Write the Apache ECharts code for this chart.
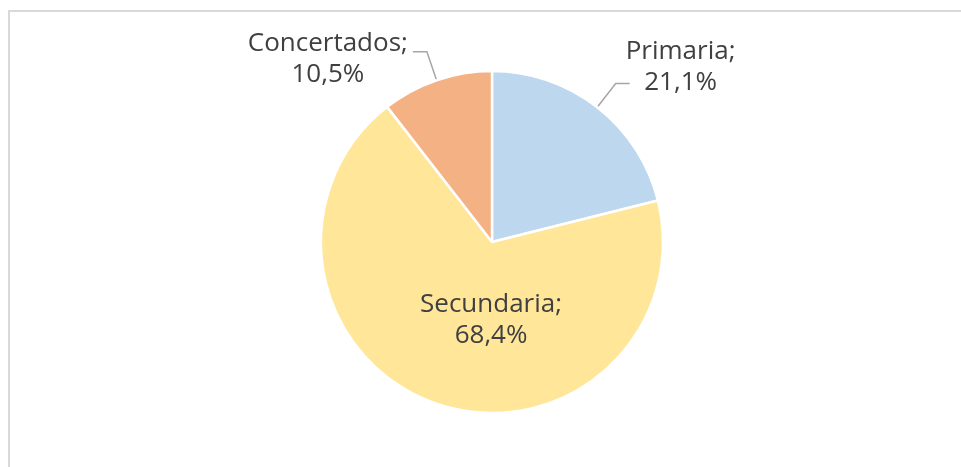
<!DOCTYPE html>
<html>
<head>
<meta charset="utf-8">
<script src="https://cdn.jsdelivr.net/npm/echarts@6/dist/echarts.min.js"></script>
<style>
  html, body { margin: 0; padding: 0; background: #fff; }
  #chart { width: 961px; height: 467px; }
</style>
</head>
<body>
<div id="chart"></div>
<script>
const categories = ['Primaria', 'Secundaria', 'Concertados'];
const shares = [21.1, 68.4, 10.5];
const colors = ['#BDD7EE', '#FFE699', '#F4B183'];

// label nudges (px) so the text sits like the original
const labelShift = [[-9, -16], [28, -6], [0, 7]];

const fmt = v => v.toFixed(1).replace('.', ',');

const option = {
    animation: false,
    graphic: [{
        type: 'rect',
        shape: { x: 9, y: 11, width: 1000, height: 600 },
        style: { fill: 'none', stroke: '#d9d9d9', lineWidth: 2 },
        silent: true
    }],
    series: [{
        type: 'pie',
        center: [492, 242],
        radius: 171,
        startAngle: 90,
        avoidLabelOverlap: false,
        itemStyle: { borderColor: '#fff', borderWidth: 2.5 },
        label: {
            show: true,
            position: 'outside',
            color: '#404040',
            fontFamily: '"Open Sans", sans-serif',
            fontSize: 26,
            lineHeight: 31,
            formatter: p => '{c|' + p.name + ';}\n{c|' + fmt(p.value) + '%}',
            rich: { c: { align: 'center', fontFamily: '"Open Sans", sans-serif', fontSize: 26, lineHeight: 31, color: '#404040' } }
        },
        labelLine: {
            show: true,
            length: 30,
            length2: 14,
            lineStyle: { color: '#a6a6a6', width: 1.5 }
        },
        labelLayout: function (params) {
            const r = params.labelRect;
            const s = labelShift[params.dataIndex];
            const out = {
                x: r.x + s[0],
                y: r.y + s[1],
                align: 'left',
                verticalAlign: 'top'
            };
            if (params.labelLinePoints) out.labelLinePoints = params.labelLinePoints;
            return out;
        },
        data: categories.map((name, i) => ({
            name: name,
            value: shares[i],
            itemStyle: { color: colors[i] },
            label: i === 1 ? { position: 'inside' } : {},
            labelLine: i === 1 ? { show: false } : {}
        }))
    }]
};

const myChart = echarts.init(document.getElementById('chart'));
myChart.setOption(option);
</script>
</body>
</html>
